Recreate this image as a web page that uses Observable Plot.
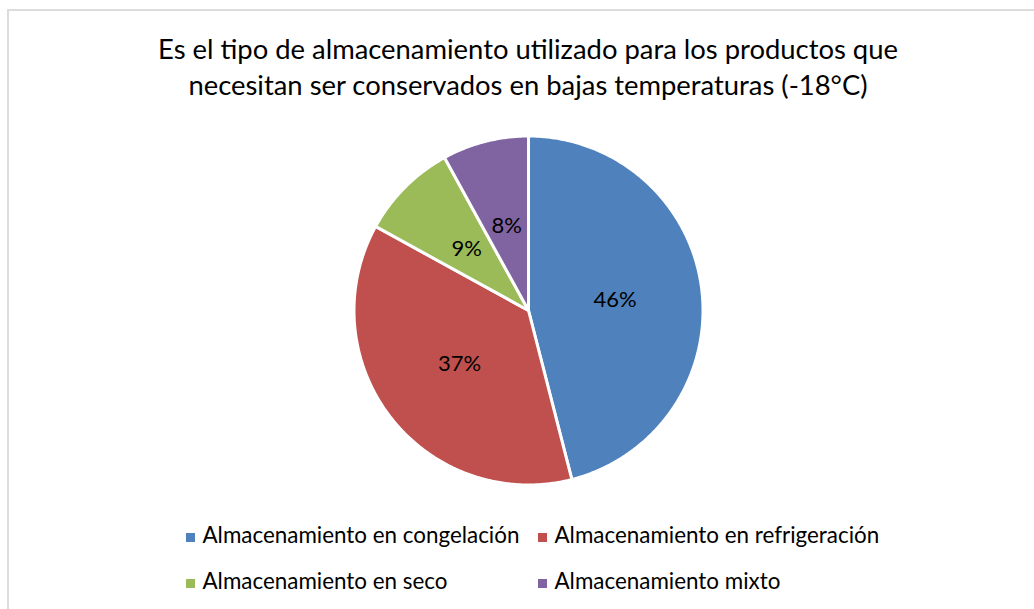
<!DOCTYPE html>
<html>
<head>
<meta charset="utf-8">
<script src="https://cdn.jsdelivr.net/npm/d3@7"></script>
<script src="https://cdn.jsdelivr.net/npm/@observablehq/plot@0.6"></script>
<style>
  html, body { margin: 0; padding: 0; background: #fff; overflow: hidden; }
  body { width: 1034px; height: 609px; position: relative; font-family: Lato, "Noto Sans", sans-serif; color: #000; }
  #frame { position: absolute; left: 7px; top: 9px; width: 1040px; height: 640px; border: 2px solid #dcdcdc; box-sizing: border-box; }
  #chart { position: absolute; left: 0; top: 0; }
  #title { position: absolute; left: 8px; width: 1040px; top: 30.7px; text-align: center; font-size: 27.4px; line-height: 36.5px; }
  .leg { position: absolute; font-size: 22.4px; line-height: 22.4px; white-space: nowrap; }
  .sw { position: absolute; width: 9px; height: 9px; }
</style>
</head>
<body>
<div id="frame"></div>
<div id="chart"></div>
<div id="title"></div>
<div id="legend"></div>
<script>
// ---- data ----
const categories = ["Almacenamiento en congelación", "Almacenamiento en refrigeración", "Almacenamiento en seco", "Almacenamiento mixto"];
const values = [46, 37, 9, 8];
const colors = ["#4F81BD", "#C0504D", "#9BBB59", "#8064A2"];
const titleLines = ["Es el tipo de almacenamiento utilizado para los productos que", "necesitan ser conservados en bajas temperaturas (-18°C)"];

// ---- layout ----
const cx = 528, cy = 310, r = 174.5;

const total = d3.sum(values);
const arcs = d3.pie().sort(null).startAngle(0).endAngle(2 * Math.PI)(values);

// polygon points per slice in unit coordinates (angle measured clockwise from top)
const slicePts = [];
arcs.forEach((a, i) => {
  const name = categories[i];
  slicePts.push({name, x: 0, y: 0});
  const n = Math.max(2, Math.ceil((a.endAngle - a.startAngle) / (Math.PI / 360)));
  for (let k = 0; k <= n; k++) {
    const t = a.startAngle + (a.endAngle - a.startAngle) * k / n;
    slicePts.push({name, x: Math.sin(t), y: Math.cos(t)});
  }
});

const labels = arcs.map((a, i) => {
  const m = (a.startAngle + a.endAngle) / 2;
  return {name: categories[i], x: 0.5 * Math.sin(m), y: 0.5 * Math.cos(m), text: Math.round(values[i] / total * 100) + "%"};
});

const chart = Plot.plot({
  width: 1034,
  height: 609,
  margin: 0,
  x: {domain: [-1, 1], range: [cx - r, cx + r], axis: null},
  y: {domain: [-1, 1], range: [cy + r, cy - r], axis: null},
  color: {domain: categories, range: colors},
  style: {background: "transparent", fontFamily: "Lato, 'Noto Sans', sans-serif", color: "#000"},
  marks: [
    Plot.line(slicePts, {x: "x", y: "y", z: "name", fill: "name", stroke: "#fff", strokeWidth: 3, curve: "linear-closed", strokeLinejoin: "round"}),
    Plot.text(labels, {x: "x", y: "y", text: "text", fill: "#000", fontSize: 22})
  ]
});
document.getElementById("chart").appendChild(chart);

// title
const titleEl = document.getElementById("title");
titleLines.forEach(t => { const d = document.createElement("div"); d.textContent = t; titleEl.appendChild(d); });

// legend (2 x 2)
const legendEl = document.getElementById("legend");
const colX = [186, 538];
const rowTop = [524.4, 570.1];
const rowSw = [533, 579];
categories.forEach((c, i) => {
  const col = i % 2, row = Math.floor(i / 2);
  const sw = document.createElement("div");
  sw.className = "sw";
  sw.style.left = colX[col] + "px";
  sw.style.top = rowSw[row] + "px";
  sw.style.background = colors[i];
  legendEl.appendChild(sw);
  const t = document.createElement("div");
  t.className = "leg";
  t.style.left = (colX[col] + 16.5) + "px";
  t.style.top = rowTop[row] + "px";
  t.textContent = c;
  legendEl.appendChild(t);
});
</script>
</body>
</html>
